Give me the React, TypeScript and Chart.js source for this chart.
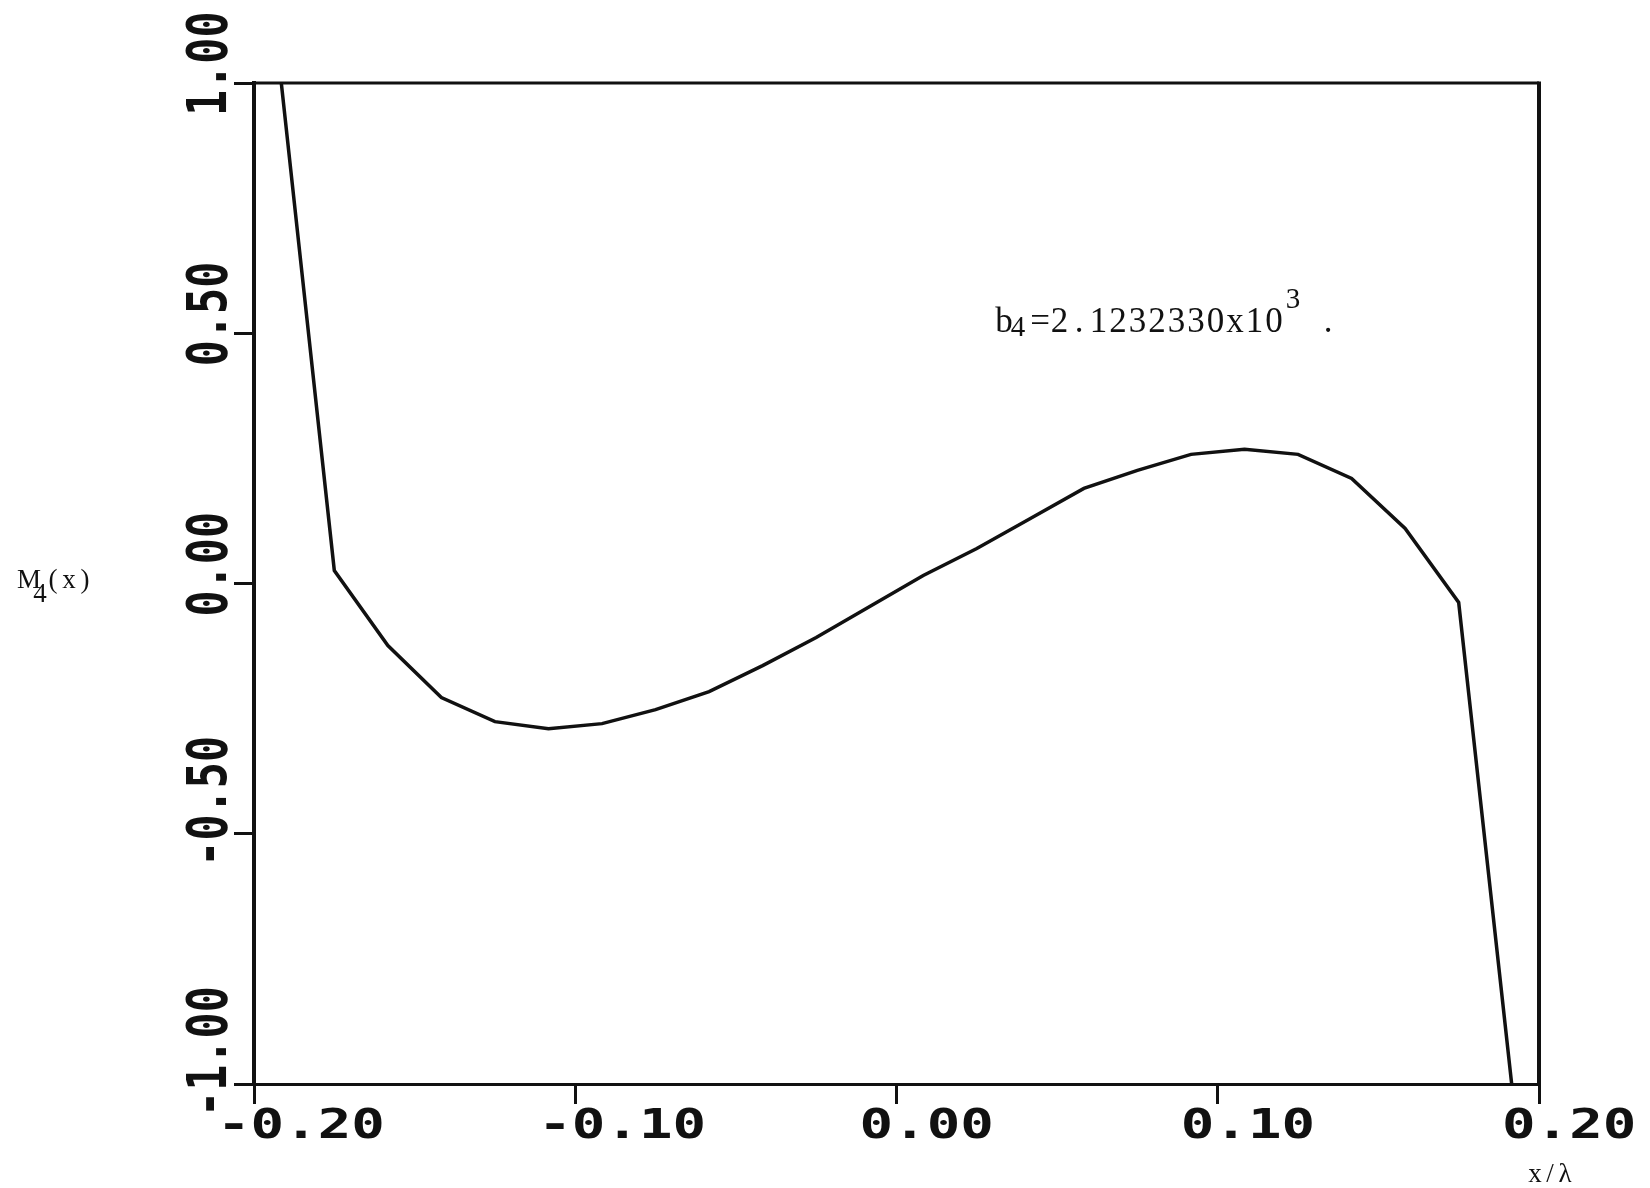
import React, { useEffect, useRef } from "react";
import { Chart, registerables } from "chart.js";

Chart.register(...registerables);

// x / lambda sample positions of the plotted polyline
const xValues = [
  -0.19167, -0.175, -0.15833, -0.14167, -0.125, -0.10833, -0.09167, -0.075,
  -0.05833, -0.04167, -0.025, -0.00833, 0.00833, 0.025, 0.04167, 0.05833,
  0.075, 0.09167, 0.10833, 0.125, 0.14167, 0.15833, 0.175, 0.19167,
];
// M4(x) values
const mValues = [
  1.01, 0.026, -0.124, -0.228, -0.276, -0.29, -0.28, -0.252,
  -0.216, -0.164, -0.108, -0.046, 0.016, 0.07, 0.13, 0.19,
  0.226, 0.258, 0.268, 0.258, 0.21, 0.11, -0.038, -1.01,
];

const xTicks = [-0.2, -0.1, 0, 0.1, 0.2];
const xTickLabels = ["-0.20", "-0.10", "0.00", "0.10", "0.20"];
const yTicks = [-1, -0.5, 0, 0.5, 1];
const yTickLabels = ["-1.00", "-0.50", "0.00", "0.50", "1.00"];

const annotationText = "=2.1232330x10";

const SERIF = "'Liberation Serif'";

// typewriter-style fixed pitch text: each char centred in its cell
function typeText(ctx: CanvasRenderingContext2D, text: string, cx0: number, y: number, pitch: number) {
  ctx.textAlign = "center";
  for (let i = 0; i < text.length; i++) {
    ctx.fillText(text[i], cx0 + i * pitch, y);
  }
}

const plotterPlugin = {
  id: "plotterText",
  afterDraw(chart: any) {
    const ctx = chart.ctx as CanvasRenderingContext2D;
    const area = chart.chartArea;
    const xs = chart.scales.x;
    const ys = chart.scales.y;
    ctx.save();
    // top and right frame lines
    ctx.strokeStyle = "#111";
    ctx.lineWidth = 3;
    ctx.beginPath();
    ctx.moveTo(area.left, area.top);
    ctx.lineTo(area.right, area.top);
    ctx.stroke();
    ctx.lineWidth = 4;
    ctx.beginPath();
    ctx.moveTo(area.right, area.top - 1.5);
    ctx.lineTo(area.right, area.bottom);
    ctx.stroke();

    ctx.fillStyle = "#111";
    ctx.textBaseline = "alphabetic";
    ctx.textAlign = "left";

    // x tick labels (wide plotter characters)
    ctx.font = "bold 41px 'DejaVu Sans Mono'";
    xTicks.forEach((v, i) => {
      const px = xs.getPixelForValue(v);
      ctx.save();
      ctx.translate(px - 37, area.bottom + 54);
      ctx.scale(1.36, 1);
      ctx.fillText(xTickLabels[i], 0, 0);
      ctx.restore();
    });

    // y tick labels (rotated, tall narrow characters)
    ctx.font = "bold 55px 'DejaVu Sans Mono'";
    yTicks.forEach((v, i) => {
      const py = ys.getPixelForValue(v);
      ctx.save();
      ctx.translate(area.left - 28, py + 33);
      ctx.rotate(-Math.PI / 2);
      ctx.scale(0.79, 1);
      ctx.fillText(yTickLabels[i], 0, 0);
      ctx.restore();
    });

    // axis titles (typewriter)
    ctx.font = `27px ${SERIF}`;
    typeText(ctx, "M", 29, 588, 16);
    typeText(ctx, "4", 40, 602, 16);
    typeText(ctx, "(x)", 53, 588, 16);

    ctx.font = `27px ${SERIF}`;
    typeText(ctx, "x/\u03bb", 1535, 1182, 15);

    // coefficient annotation
    ctx.font = `35px ${SERIF}`;
    typeText(ctx, "b", 1004, 332, 19.5);
    ctx.font = `29px ${SERIF}`;
    typeText(ctx, "4", 1018, 336, 19.5);
    ctx.font = `35px ${SERIF}`;
    typeText(ctx, annotationText, 1040, 332, 19.5);
    ctx.font = `29px ${SERIF}`;
    typeText(ctx, "3", 1293, 308, 19.5);
    ctx.font = `35px ${SERIF}`;
    typeText(ctx, ".", 1328, 332, 19.5);
    ctx.restore();
  },
};

export default function App() {
  const ref = useRef<HTMLCanvasElement | null>(null);
  useEffect(() => {
    if (!ref.current) return;
    const chart = new Chart(ref.current, {
      type: "line",
      data: {
        datasets: [
          {
            data: xValues.map((x, i) => ({ x, y: mValues[i] })),
            borderColor: "#111",
            borderWidth: 3.5,
            pointRadius: 0,
            tension: 0,
            fill: false,
          },
        ],
      },
      options: {
        responsive: false,
        animation: false,
        events: [],
        layout: { padding: { left: 234, top: 83, right: 111, bottom: 84 } },
        plugins: { legend: { display: false }, tooltip: { enabled: false } },
        scales: {
          x: {
            type: "linear",
            min: -0.2,
            max: 0.2,
            afterBuildTicks: (s: any) => {
              s.ticks = xTicks.map((v) => ({ value: v }));
            },
            ticks: { display: false },
            grid: {
              drawOnChartArea: false,
              drawTicks: true,
              tickLength: 20,
              color: "#111",
              lineWidth: 3,
            },
            border: { display: true, color: "#111", width: 3 },
          },
          y: {
            type: "linear",
            min: -1,
            max: 1,
            afterBuildTicks: (s: any) => {
              s.ticks = yTicks.map((v) => ({ value: v }));
            },
            ticks: { display: false },
            grid: {
              drawOnChartArea: false,
              drawTicks: true,
              tickLength: 20,
              color: "#111",
              lineWidth: 3,
            },
            border: { display: true, color: "#111", width: 4 },
          },
        },
      },
      plugins: [plotterPlugin],
    });
    return () => chart.destroy();
  }, []);
  return (
    <div style={{ position: "absolute", left: 0, top: 0, width: 1650, height: 1188, background: "#fff" }}>
      <canvas ref={ref} width={1650} height={1188} style={{ display: "block" }} />
    </div>
  );
}
